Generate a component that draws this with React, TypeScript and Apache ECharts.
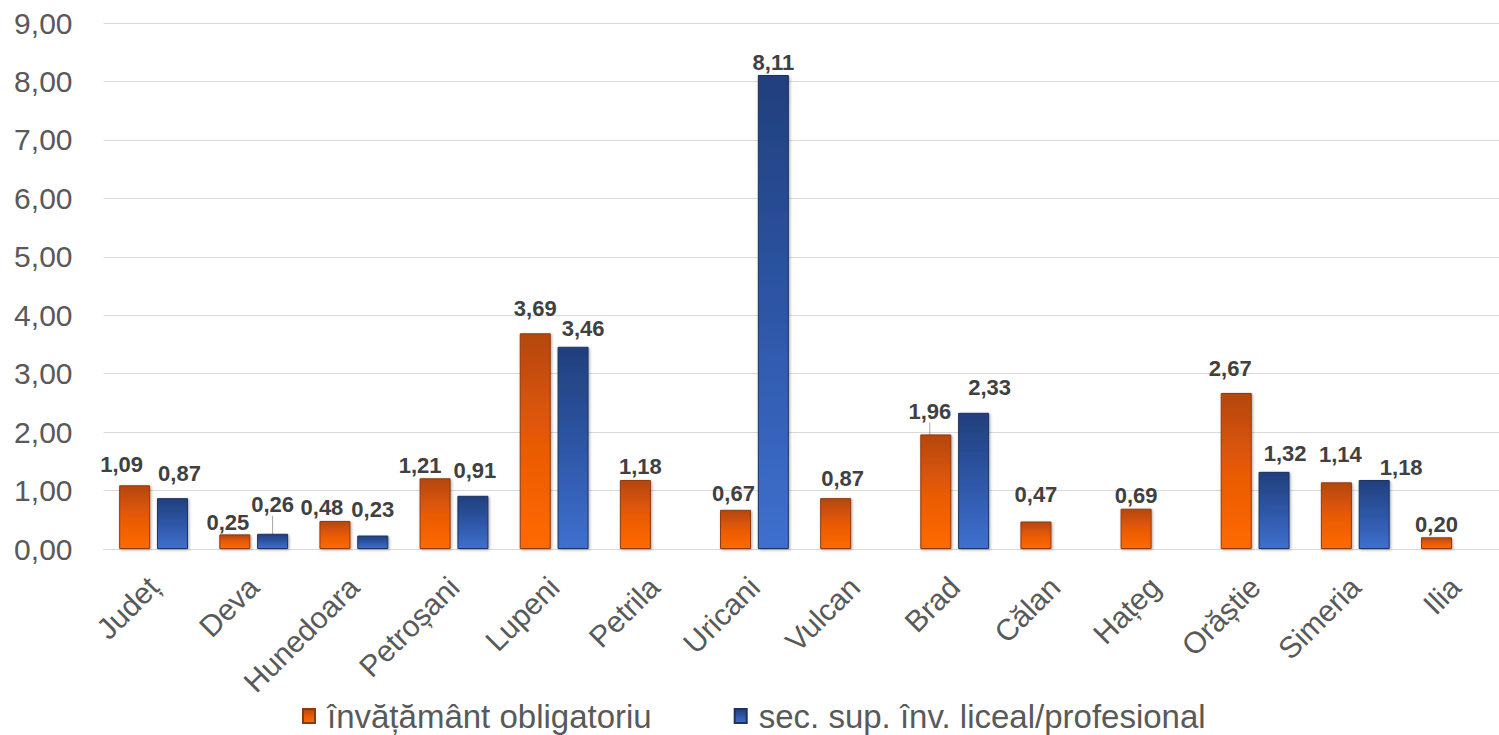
import React, { useEffect, useRef } from "react";
import * as echarts from "echarts";

const categories = [
  "Județ", "Deva", "Hunedoara", "Petroșani", "Lupeni", "Petrila", "Uricani",
  "Vulcan", "Brad", "Călan", "Hațeg", "Orăștie", "Simeria", "Ilia",
];
const seriesNames = ["învățământ obligatoriu", "sec. sup. înv. liceal/profesional"];
const obligatoriu = [1.09, 0.25, 0.48, 1.21, 3.69, 1.18, 0.67, 0.87, 1.96, 0.47, 0.69, 2.67, 1.14, 0.2];
const liceal = [0.87, 0.26, 0.23, 0.91, 3.46, null, 8.11, null, 2.33, null, null, 1.32, 1.18, null];
const yTicks = [0, 1, 2, 3, 4, 5, 6, 7, 8, 9];

// label nudges (style only): [dx, dy] per category
const orangeLabelShift = [
  [-13, -8], [-7, 1], [-13, 0], [-15, 0], [0, -12], [5, -1], [-2, -3],
  [7, -7], [-6, -10], [0, -14], [0, 0], [-6, -11], [4, -15], [0, 0],
];
const blueLabelShift = [
  [7, -12], [0, -16], [0, -13], [2, -12], [10, -5], [0, 0], [0, 0],
  [0, 0], [16, -12], [0, 0], [0, 0], [11, -5], [27, 0], [0, 0],
];
const leaderLines = [[8], [1]]; // indices with a leader line, per series

const fmt = (v: number) => v.toFixed(2).replace(".", ",");

export default function App() {
  const ref = useRef<HTMLDivElement>(null);
  useEffect(() => {
    if (!ref.current) return;
    const chart = echarts.init(ref.current, undefined, { renderer: "svg" });
    const orangeFill = new echarts.graphic.LinearGradient(0, 0, 0, 1, [
      { offset: 0, color: "#B4470C" },
      { offset: 0.5, color: "#E85A06" },
      { offset: 1, color: "#FF6A00" },
    ]);
    const blueFill = new echarts.graphic.LinearGradient(0, 0, 0, 1, [
      { offset: 0, color: "#213F7C" },
      { offset: 0.5, color: "#2E56A6" },
      { offset: 1, color: "#3F70CE" },
    ]);
    const mkData = (vals: (number | null)[], si: number) =>
      vals.map((v, i) =>
        leaderLines[si].includes(i)
          ? { value: v, labelLine: { show: true, lineStyle: { color: "#A6A6A6", width: 1 } } }
          : { value: v }
      );
    const labelCfg = {
      show: true,
      position: "top",
      distance: 2,
      color: "#404040",
      fontWeight: "bold",
      fontSize: 22,
      fontFamily: "Liberation Sans, Arial, sans-serif",
      formatter: (p: any) => (p.value == null ? "" : fmt(p.value)),
    };
    chart.setOption({
      animation: false,
      backgroundColor: "#ffffff",
      textStyle: { fontFamily: "Liberation Sans, Arial, sans-serif" },
      grid: {
        left: 103.5,
        right: -6.5,
        top: 23,
        bottom: 186,
        containLabel: false,
        outerBoundsMode: "none",
      },
      legend: {
        data: seriesNames,
        left: 302,
        bottom: 2,
        itemWidth: 12,
        itemHeight: 14,
        itemGap: 82,
        icon: "rect",
        padding: 0,
        textStyle: { fontSize: 33, lineHeight: 34, color: "#595959", padding: [0, 0, 0, 7] },
      },
      xAxis: {
        type: "category",
        data: categories,
        axisLine: { lineStyle: { color: "#D9D9D9", width: 1 } },
        axisTick: { show: false },
        axisLabel: {
          interval: 0,
          rotate: 45,
          margin: 33,
          fontSize: 30,
          color: "#595959",
        },
      },
      yAxis: {
        type: "value",
        min: yTicks[0],
        max: yTicks[yTicks.length - 1],
        interval: 1,
        axisLine: { show: false },
        axisTick: { show: false },
        splitLine: { lineStyle: { color: "#D9D9D9", width: 1 } },
        axisLabel: {
          margin: 31,
          fontSize: 30,
          color: "#595959",
          formatter: (v: number) => fmt(v),
        },
      },
      series: [
        {
          name: seriesNames[0],
          type: "bar",
          data: mkData(obligatoriu, 0),
          barWidth: 31,
          barGap: "22%",
          itemStyle: {
            color: orangeFill,
            borderColor: "#8C3A0C",
            borderWidth: 1,
            shadowBlur: 3,
            shadowColor: "rgba(0,0,0,0.35)",
            shadowOffsetX: 1,
            shadowOffsetY: 1,
          },
          label: labelCfg,
          labelLayout: (p: any) => {
            const s = orangeLabelShift[p.dataIndex] || [0, 0];
            return { dx: s[0], dy: s[1] };
          },
        },
        {
          name: seriesNames[1],
          type: "bar",
          data: mkData(liceal, 1),
          barWidth: 31,
          barGap: "22%",
          itemStyle: {
            color: blueFill,
            borderColor: "#1C3361",
            borderWidth: 1,
            shadowBlur: 3,
            shadowColor: "rgba(0,0,0,0.35)",
            shadowOffsetX: 1,
            shadowOffsetY: 1,
          },
          label: labelCfg,
          labelLayout: (p: any) => {
            const s = blueLabelShift[p.dataIndex] || [0, 0];
            return { dx: s[0], dy: s[1] };
          },
        },
      ],
    });
    return () => chart.dispose();
  }, []);
  return (
    <div
      ref={ref}
      style={{ position: "fixed", left: 0, top: 0, width: 1499, height: 735, background: "#fff" }}
    />
  );
}
